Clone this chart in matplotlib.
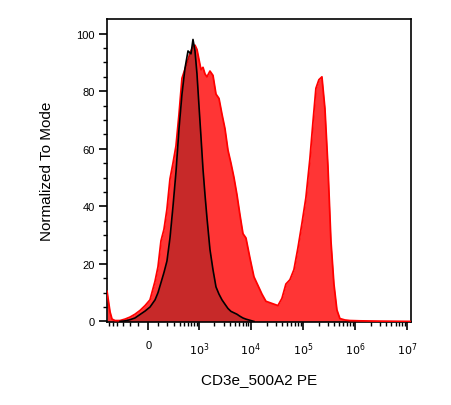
import numpy as np
import matplotlib.pyplot as plt
from matplotlib.ticker import FixedLocator, NullFormatter

plt.rcParams['font.family'] = ['Liberation Sans', 'DejaVu Sans']

# fluorescence channel values (PE), biexponential axis
fluor = [-650, -620, -564, -513, -443, -345, -263, -194, -134, -81, -31, 16, 65, 95,
         127, 161, 198, 239, 284, 334, 390, 452, 523, 603, 693, 760, 833, 912, 998,
         1094, 1196, 1309, 1430, 1634, 1869, 2137, 2440, 2789, 3182, 3636, 4152, 4741,
         5416, 6181, 7061, 8058, 9619, 11480, 13706, 16340, 19500, 23280, 27780, 33130,
         39550, 47210, 56360, 67270, 80200, 95700, 114200, 136300, 155600, 177800,
         203000, 231800, 264600, 302200, 345100, 393900, 449800, 513400, 640300,
         798400, 1243000, 3008000, 11860000]

# stained sample (red), normalized to mode
stained = [10.5, 8, 3.3, 0.8, 0.3, 0.3, 0.8, 1.5, 2.5, 3.8, 5.5, 7.5, 14, 19,
           28, 32, 39, 49.5, 55, 61, 72, 84.5, 87.7, 91, 94, 95.5, 96, 94.5, 91,
           87.5, 88.3, 86, 85, 87, 85.5, 79, 77.5, 72, 67, 59.5, 55, 50,
           44, 37, 30.5, 29, 22, 15.5, 12.5, 9.5, 7, 6.5, 6, 5.5,
           8, 13, 14.5, 18, 25.5, 34, 43, 56.5, 69, 81,
           84, 85, 74, 54, 28, 13, 4, 1, 0.5,
           0.3, 0.2, 0.1, 0]

# unstained / isotype control (black outline)
control = [0, 0, 0, 0, 0, 0, 0.2, 0.6, 1.2, 2.4, 3.6, 5, 7.5, 10,
           13.5, 17, 21, 29, 40, 52, 67, 79, 88, 94, 93, 98, 94, 86, 75,
           64, 53, 44, 36, 25, 18, 12, 9.5, 7.5, 6, 4.5, 3.5, 3,
           2.5, 1.8, 1.2, 0.8, 0.4, 0, 0, 0, 0, 0, 0, 0,
           0, 0, 0, 0, 0, 0, 0, 0, 0, 0,
           0, 0, 0, 0, 0, 0, 0, 0, 0,
           0, 0, 0, 0]

x = np.array(fluor, dtype=float)
red = np.array(stained)
ctrl = np.array(control)

fig = plt.figure(figsize=(4.51, 4.06), dpi=100)
ax = fig.add_axes([0.2373, 0.2044, 0.674, 0.7463])
ax.set_xscale('asinh', linear_width=215)

ax.fill_between(x, red, color='#ff3535', lw=0, zorder=2)
ax.plot(x, red, color='#ff0000', lw=1.3, zorder=3)

# control only drawn where it has events
sel = slice(5, 48)
ax.fill_between(x[sel], ctrl[sel], color='black', alpha=0.22, lw=0, zorder=4)
ax.plot(x[sel], ctrl[sel], color='black', lw=1.2, zorder=5)

ax.set_xlim(-650, 1.19e7)
ax.set_ylim(-0.2, 105.1)

major_x = [0, 1e3, 1e4, 1e5, 1e6, 1e7]
ax.set_xticks(major_x)
ax.set_xticklabels(['0', '$10^3$', '$10^4$', '$10^5$', '$10^6$', '$10^7$'])
minor_x = [-600, -500, -400, -300, -200, -100, 100, 200, 300, 400, 500, 600, 700, 800, 900]
for d in range(3, 7):
    minor_x += [k * 10 ** d for k in range(2, 10)]
ax.xaxis.set_minor_locator(FixedLocator(minor_x))
ax.xaxis.set_minor_formatter(NullFormatter())

ax.set_yticks([0, 20, 40, 60, 80, 100])
ax.yaxis.set_minor_locator(FixedLocator(np.arange(5, 105, 5)))

ax.tick_params(which='major', length=6, width=1.2, labelsize=8, pad=3)
ax.tick_params(which='minor', length=3, width=1)
ax.tick_params(axis='x', which='major', pad=7)
for sp in ax.spines.values():
    sp.set_linewidth(1.2)

ax.set_xlabel('CD3e_500A2 PE', fontsize=11, labelpad=11)
ax.set_ylabel('Normalized To Mode', fontsize=11, labelpad=16)

fig.savefig('out.png', dpi=100)
